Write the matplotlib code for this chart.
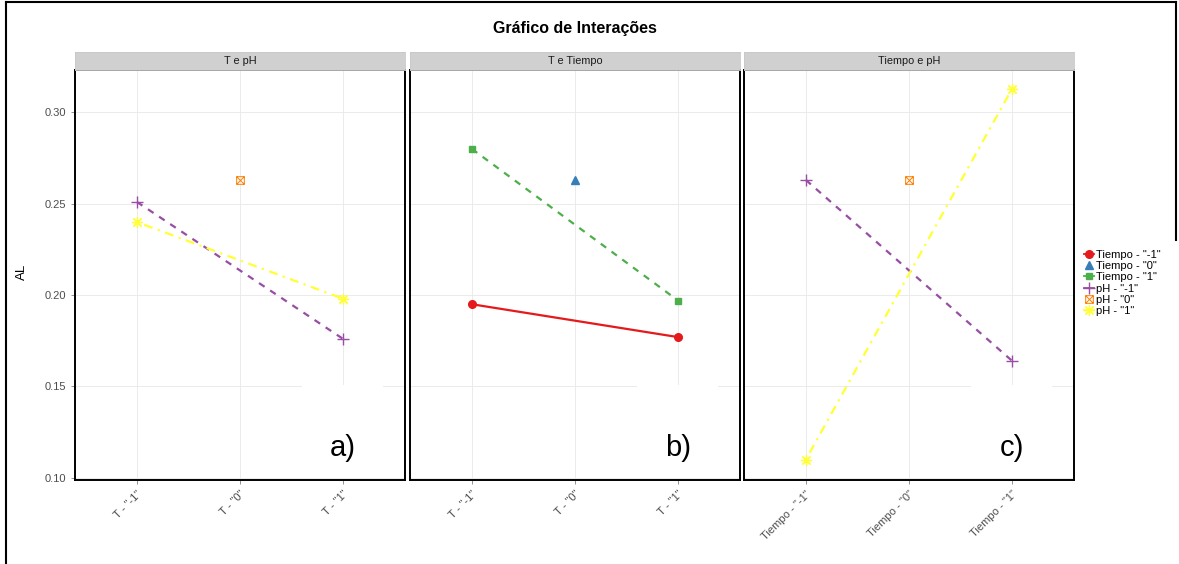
import numpy as np
import matplotlib
matplotlib.use('Agg')
import matplotlib.pyplot as plt
from matplotlib.path import Path
from matplotlib.lines import Line2D
from matplotlib.patches import Rectangle

plt.rcParams['font.family'] = ['Liberation Sans', 'DejaVu Sans']

# values
levels = ['"-1"', '"0"', '"1"']

# panel a: x = T, trace = pH
t_ph_low = [0.251, None, 0.176]
t_ph_mid = [None, 0.263, None]
t_ph_high = [0.240, None, 0.198]

# panel b: x = T, trace = Tiempo
t_tie_low = [0.195, None, 0.177]
t_tie_mid = [None, 0.263, None]
t_tie_high = [0.280, None, 0.197]

# panel c: x = Tiempo, trace = pH
tie_ph_low = [0.263, None, 0.164]
tie_ph_mid = [None, 0.263, None]
tie_ph_high = [0.110, None, 0.313]

strip_titles = ['T e pH', 'T e Tiempo', 'Tiempo e pH']
x_prefix = ['T', 'T', 'Tiempo']
corner_labels = ['a)', 'b)', 'c)']

# Set1 colours
RED, BLUE, GREEN = '#E41A1C', '#377EB8', '#4DAF4A'
PURPLE, ORANGE, YELLOW = '#984EA3', '#FF7F00', '#FFFF33'

box_x = Path([(-1, -1), (1, -1), (1, 1), (-1, 1), (-1, -1),
              (-1, -1), (1, 1), (-1, 1), (1, -1)],
             [Path.MOVETO, Path.LINETO, Path.LINETO, Path.LINETO, Path.CLOSEPOLY,
              Path.MOVETO, Path.LINETO, Path.MOVETO, Path.LINETO])

styles = {
    'tie_low': dict(color=RED, marker='o', ms=5.5, ls='-'),
    'tie_mid': dict(color=BLUE, marker='^', ms=6, ls='-'),
    'tie_high': dict(color=GREEN, marker='s', ms=5, dashes=(3, 3)),
    'ph_low': dict(color=PURPLE, marker='+', ms=9, mew=1.0, dashes=(3, 3)),
    'ph_mid': dict(color=ORANGE, marker=box_x, ms=5.5, mew=0.7, mfc='none', ls='-'),
    'ph_high': dict(color=YELLOW, marker=(8, 2, 0), ms=8, mew=0.9, dashes=(1, 2.5, 4, 2.5)),
}

panels = [
    [('ph_low', t_ph_low), ('ph_mid', t_ph_mid), ('ph_high', t_ph_high)],
    [('tie_low', t_tie_low), ('tie_mid', t_tie_mid), ('tie_high', t_tie_high)],
    [('ph_low', tie_ph_low), ('ph_mid', tie_ph_mid), ('ph_high', tie_ph_high)],
]

W, H = 1179, 564
fig = plt.figure(figsize=(W / 100, H / 100), dpi=100)

lefts = [75, 410, 744]
pw = 330
top_px, bot_px = 70, 480
strip_h = 18

for i, (left, series) in enumerate(zip(lefts, panels)):
    ax = fig.add_axes([left / W, 1 - bot_px / H, pw / W, (bot_px - top_px) / H])
    for key, vals in series:
        xs = [j for j, v in enumerate(vals) if v is not None]
        ys = [v for v in vals if v is not None]
        ax.plot(xs, ys, lw=1.6, zorder=3, **styles[key])
    ax.set_xlim(-0.6, 2.6)
    ax.set_ylim(0.0988, 0.3232)
    ax.set_xticks(range(3))
    ax.set_xticklabels([f'{x_prefix[i]} - {lv}' for lv in levels],
                       rotation=45, ha='right', va='top', fontsize=8,
                       color='#4D4D4D', rotation_mode='anchor')
    ax.set_yticks([0.10, 0.15, 0.20, 0.25, 0.30])
    ax.tick_params(axis='both', color='#7F7F7F', width=0.6, length=3)
    if i == 0:
        ax.set_yticklabels(['0.10', '0.15', '0.20', '0.25', '0.30'],
                           fontsize=8, color='#4D4D4D')
    else:
        ax.tick_params(axis='y', length=0, labelleft=False)
    ax.grid(True, color='#EBEBEB', lw=0.7, zorder=0)
    ax.set_axisbelow(True)
    for sp in ax.spines.values():
        sp.set_linewidth(1.4)
        sp.set_color('black')
    # white patch behind the corner label
    ax.add_patch(Rectangle(((302 - 75) / pw, 0.005), 81 / pw, (480 - 385) / 410 - 0.005,
                           transform=ax.transAxes, facecolor='white',
                           edgecolor='none', zorder=1))
    ax.text(2.0, 0.1165, corner_labels[i], fontsize=21, ha='center', va='center',
            zorder=4)

    # strip
    sax = fig.add_axes([left / W, 1 - top_px / H, pw / W, strip_h / H])
    sax.set_facecolor('#D0D0D0')
    sax.set_xticks([])
    sax.set_yticks([])
    for sp in sax.spines.values():
        sp.set_color('#C8C8C8')
        sp.set_linewidth(0.6)
    sax.text(0.5, 0.5, strip_titles[i], ha='center', va='center', fontsize=7.8,
             color='#1A1A1A', transform=sax.transAxes)

fig.text(22 / W, 1 - 272 / H, 'AL', rotation=90, ha='center', va='center', fontsize=9.5)
fig.text(575 / W, 1 - 28 / H, 'Gráfico de Interações', ha='center', va='center',
         fontsize=11.5, fontweight='bold')

legend_labels = ['Tiempo - "-1"', 'Tiempo - "0"', 'Tiempo - "1"',
                 'pH - "-1"', 'pH - "0"', 'pH - "1"']
handles = []
for key in ['tie_low', 'tie_mid', 'tie_high', 'ph_low', 'ph_mid', 'ph_high']:
    st = dict(styles[key])
    st.pop('dashes', None)
    st['ls'] = '-'
    if key in ('tie_mid', 'ph_mid'):
        st['ls'] = 'none'
    handles.append(Line2D([], [], lw=1.3, **st))
fig.legend(handles, legend_labels, loc='center left',
           bbox_to_anchor=(1078 / W, 1 - 283 / H), frameon=False, fontsize=8,
           handlelength=0.9, handletextpad=0.25, labelspacing=0.12, borderpad=0)

# outer frame lines
fig.add_artist(Line2D([6 / W, 6 / W], [0, 1 - 2 / H], color='black', lw=1.5))
fig.add_artist(Line2D([6 / W, 1176 / W], [1 - 2 / H, 1 - 2 / H], color='black', lw=1.5))
fig.add_artist(Line2D([1176 / W, 1176 / W], [1 - 2 / H, 1 - 240 / H], color='black', lw=1.5))

fig.savefig('out.png', dpi=100)
